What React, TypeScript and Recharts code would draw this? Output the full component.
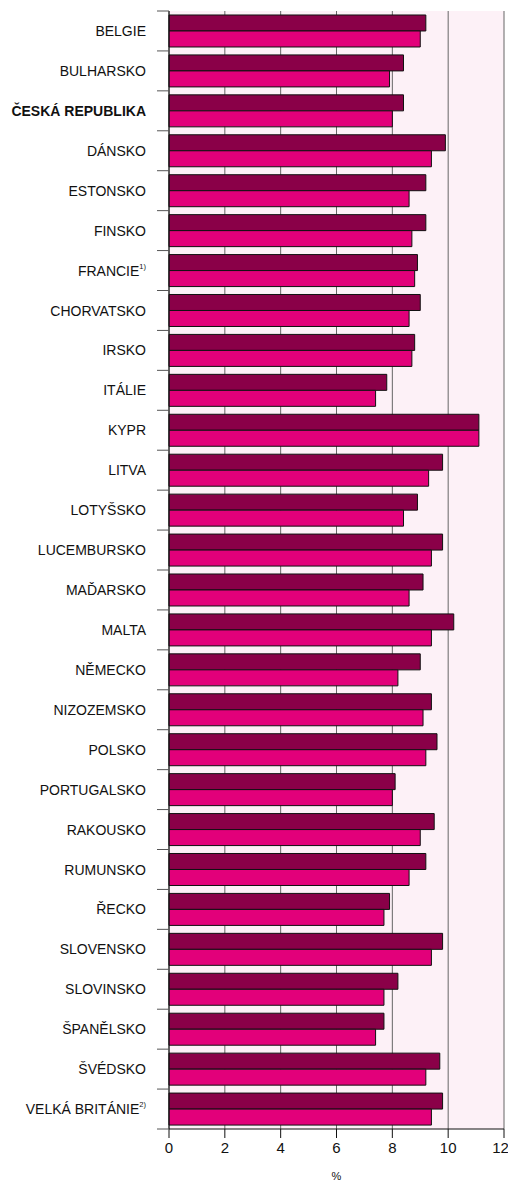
import React from 'react';
import {
  BarChart,
  Bar,
  XAxis,
  YAxis,
  CartesianGrid,
} from 'recharts';

// countries, top to bottom
const countries = [
  'BELGIE', 'BULHARSKO', 'ČESKÁ REPUBLIKA', 'DÁNSKO', 'ESTONSKO', 'FINSKO',
  'FRANCIE', 'CHORVATSKO', 'IRSKO', 'ITÁLIE', 'KYPR', 'LITVA', 'LOTYŠSKO',
  'LUCEMBURSKO', 'MAĎARSKO', 'MALTA', 'NĚMECKO', 'NIZOZEMSKO', 'POLSKO',
  'PORTUGALSKO', 'RAKOUSKO', 'RUMUNSKO', 'ŘECKO', 'SLOVENSKO', 'SLOVINSKO',
  'ŠPANĚLSKO', 'ŠVÉDSKO', 'VELKÁ BRITÁNIE',
];
// footnote markers shown as superscript after the name
const footnotes = [
  '', '', '', '', '', '', '1)', '', '', '', '', '', '', '', '', '', '', '', '',
  '', '', '', '', '', '', '', '', '2)',
];
const highlighted = 'ČESKÁ REPUBLIKA';

// upper (dark) bar of each pair
const darkValues = [
  9.2, 8.4, 8.4, 9.9, 9.2, 9.2, 8.9, 9.0, 8.8, 7.8, 11.1, 9.8, 8.9, 9.8,
  9.1, 10.2, 9.0, 9.4, 9.6, 8.1, 9.5, 9.2, 7.9, 9.8, 8.2, 7.7, 9.7, 9.8,
];
// lower (bright) bar of each pair
const brightValues = [
  9.0, 7.9, 8.0, 9.4, 8.6, 8.7, 8.8, 8.6, 8.7, 7.4, 11.1, 9.3, 8.4, 9.4,
  8.6, 9.4, 8.2, 9.1, 9.2, 8.0, 9.0, 8.6, 7.7, 9.4, 7.7, 7.4, 9.2, 9.4,
];
const xTicks = [0, 2, 4, 6, 8, 10, 12];

const data = countries.map((name, i) => ({
  name,
  dark: darkValues[i],
  bright: brightValues[i],
}));

const W = 508;
const H = 1184;
const MARGIN = { top: 11, right: 4, bottom: 0, left: 0 };
const Y_AXIS_W = 169;
const X_AXIS_H = 55;
const TICK_SIZE = 12;
const TICK_MARGIN = 11;
const BAND = (H - MARGIN.top - MARGIN.bottom - X_AXIS_H) / countries.length;
const FONT = '"Liberation Sans", Arial, Helvetica, sans-serif';

const CountryTick = (props: any) => {
  const { x, y, payload } = props;
  const idx = payload.index;
  const note = footnotes[idx];
  const x1 = x + TICK_MARGIN;
  const x2 = x1 + TICK_SIZE;
  return (
    <g>
      <line x1={x1} x2={x2} y1={y - BAND / 2} y2={y - BAND / 2} stroke="#555" />
      {idx === countries.length - 1 && (
        <line x1={x1} x2={x2} y1={y + BAND / 2} y2={y + BAND / 2} stroke="#555" />
      )}
      <text
        x={x}
        y={y}
        dy="0.36em"
        textAnchor="end"
        fontSize={14}
        fontFamily={FONT}
        fontWeight={payload.value === highlighted ? 'bold' : 'normal'}
        fill="#111"
      >
        {payload.value}
        {note && (
          <tspan fontSize={7.5} dy="-0.9em">
            {note}
          </tspan>
        )}
      </text>
    </g>
  );
};

export default function App() {
  return (
    <div style={{ position: 'absolute', left: 0, top: 0, background: '#fff' }}>
      <BarChart
        width={W}
        height={H}
        data={data}
        layout="vertical"
        margin={MARGIN}
        barCategoryGap="10%"
        barGap={0}
      >
        <CartesianGrid horizontal={false} stroke="#666" fill="#fdf1f7" />
        <XAxis
          type="number"
          domain={[0, 12]}
          ticks={xTicks}
          height={X_AXIS_H}
          tickSize={9}
          tickMargin={4}
          axisLine={{ stroke: '#111' }}
          tickLine={{ stroke: '#111' }}
          tick={{ fontSize: 15, fill: '#111', fontFamily: FONT }}
          label={{
            value: '%',
            position: 'insideBottom',
            offset: 4,
            fontSize: 11,
            fill: '#111',
            fontFamily: FONT,
          }}
        />
        <XAxis
          xAxisId="top"
          orientation="top"
          type="number"
          domain={[0, 12]}
          height={0}
          tick={false}
          tickLine={false}
          axisLine={{ stroke: '#333' }}
        />
        <YAxis
          type="category"
          dataKey="name"
          width={Y_AXIS_W}
          tickSize={TICK_SIZE}
          tickMargin={TICK_MARGIN}
          tickLine={false}
          axisLine={{ stroke: '#111' }}
          interval={0}
          tick={<CountryTick />}
        />
        <YAxis
          yAxisId="right"
          orientation="right"
          type="category"
          dataKey="name"
          width={0}
          tick={false}
          tickLine={false}
          axisLine={{ stroke: '#333' }}
        />
        <Bar dataKey="dark" fill="#8a0048" stroke="#111" strokeWidth={1} isAnimationActive={false} />
        <Bar dataKey="bright" fill="#e2007a" stroke="#111" strokeWidth={1} isAnimationActive={false} />
      </BarChart>
    </div>
  );
}
